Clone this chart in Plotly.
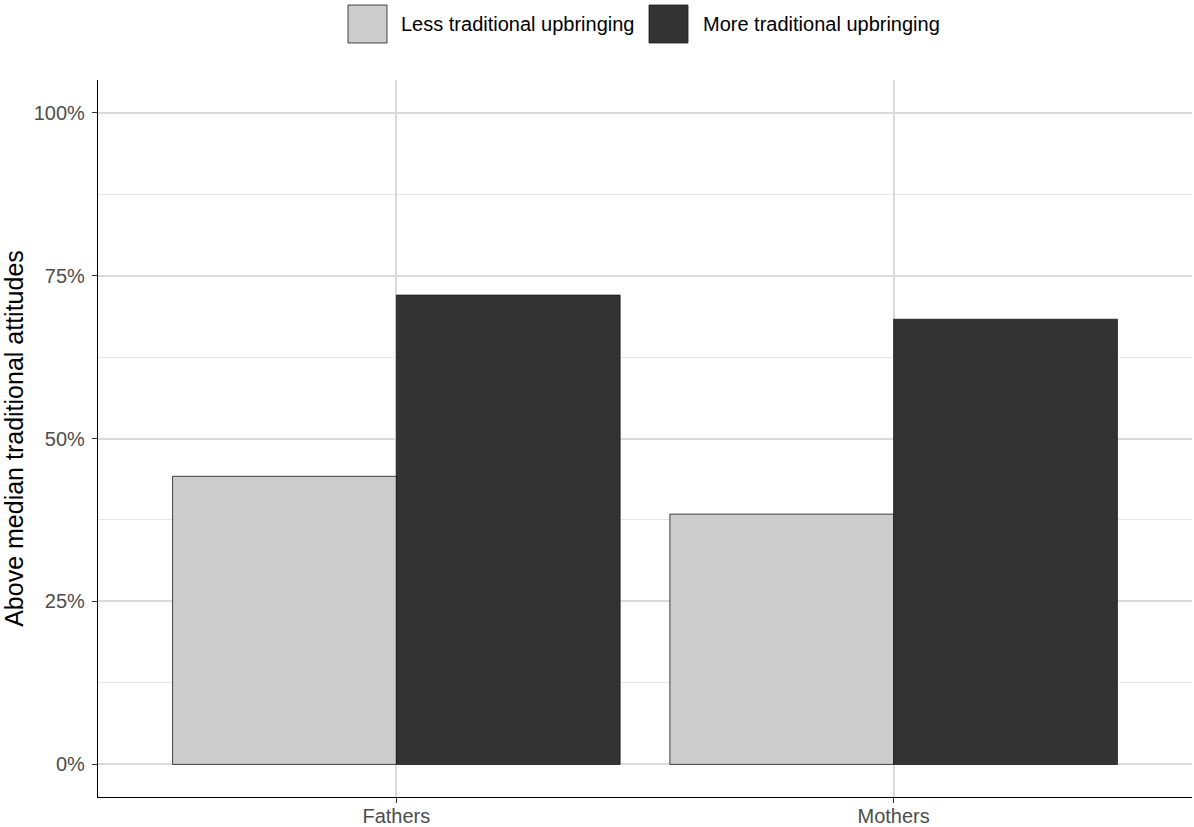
import plotly.graph_objects as go

# ---- data ----
categories = ["Fathers", "Mothers"]
series_names = ["Less traditional upbringing", "More traditional upbringing"]
less_traditional = [0.442, 0.384]
more_traditional = [0.720, 0.683]
series_colors = ["#CCCCCC", "#333333"]
y_tick_vals = [0, 0.25, 0.5, 0.75, 1.0]
y_tick_text = ["0%", "25%", "50%", "75%", "100%"]
y_title = "Above median traditional attitudes"

W, H = 1194, 827
ML, MR, MT, MB = 98, 2, 80, 30
PW, PH = W - ML - MR, H - MT - MB

FONT = "Liberation Sans, Arial, Helvetica, sans-serif"

fig = go.Figure()
for name, vals, col in zip(series_names, [less_traditional, more_traditional], series_colors):
    fig.add_trace(go.Bar(
        x=categories, y=vals, name=name,
        marker=dict(color=col, line=dict(color="#1a1a1a", width=0.8)),
        showlegend=False,
    ))

def px2paper_x(px):
    return (px - ML) / PW

def px2paper_y(py):
    return (H - MB - py) / PH

# custom legend (ggplot-style large keys)
legend_items = [
    (348, 387, 399),
    (649, 688, 701),
]
for (x0, x1, tx), name, col in zip(legend_items, series_names, series_colors):
    fig.add_shape(type="rect", xref="paper", yref="paper",
                  x0=px2paper_x(x0), x1=px2paper_x(x1),
                  y0=px2paper_y(43), y1=px2paper_y(5),
                  fillcolor=col, line=dict(color="#1a1a1a", width=0.8))
    fig.add_annotation(xref="paper", yref="paper",
                       x=px2paper_x(tx), y=px2paper_y(24),
                       xanchor="left", yanchor="middle", showarrow=False,
                       text=name, font=dict(family=FONT, size=20, color="black"))

fig.update_layout(
    width=W, height=H,
    margin=dict(l=ML, r=MR, t=MT, b=MB, pad=0, autoexpand=False),
    paper_bgcolor="white", plot_bgcolor="white",
    barmode="group", bargap=0.1, bargroupgap=0,
    font=dict(family=FONT),
)
fig.update_xaxes(
    type="category", range=[-0.6, 1.6], automargin=False,
    showline=True, linecolor="black", linewidth=1.4,
    showgrid=True, gridcolor="#DADADA", gridwidth=1.6,
    ticks="outside", ticklen=5, tickcolor="#333333", tickwidth=1.2,
    ticklabelstandoff=-4,
    tickfont=dict(family=FONT, size=20, color="#4D4D4D"),
    zeroline=False,
)
fig.update_yaxes(
    range=[-0.05, 1.05], automargin=False,
    tickvals=y_tick_vals, ticktext=y_tick_text,
    showline=True, linecolor="black", linewidth=1.4,
    showgrid=True, gridcolor="#DADADA", gridwidth=1.6,
    minor=dict(dtick=0.125, tick0=0, showgrid=True, gridcolor="#E6E6E6", gridwidth=0.9),
    ticks="outside", ticklen=5, tickcolor="#333333", tickwidth=1.2,
    ticklabelstandoff=3,
    tickfont=dict(family=FONT, size=20, color="#4D4D4D"),
    title=dict(text=y_title, font=dict(family=FONT, size=25, color="black"), standoff=6),
    zeroline=False,
)

fig.write_html("out.html", config={"displayModeBar": False},
               post_script="document.body.style.margin='0';document.body.style.padding='0';")
